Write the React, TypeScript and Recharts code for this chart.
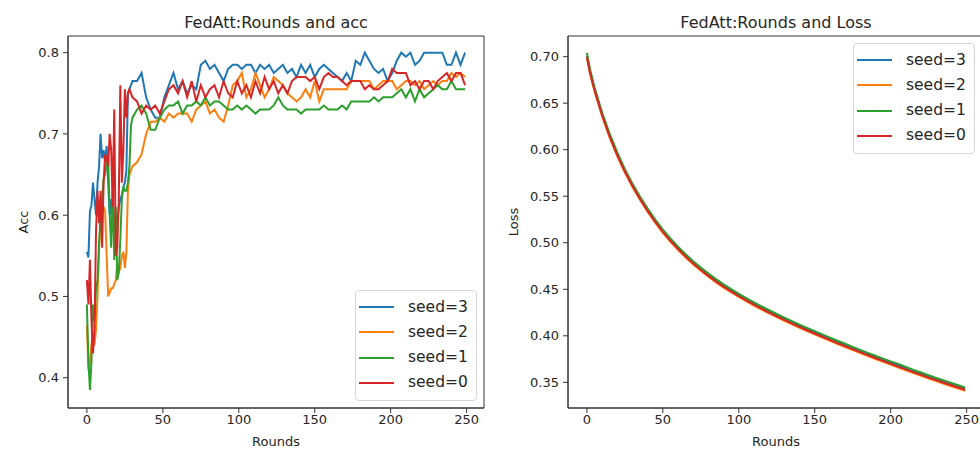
import { LineChart, Line, XAxis, YAxis, Label, ReferenceArea } from 'recharts'

const FONT = '"DejaVu Sans", Verdana, sans-serif'
const INK = '#262626'
const SPINE = '#333'

const SERIES = [
  { key: 's3', name: 'seed=3', color: '#1f77b4' },
  { key: 's2', name: 'seed=2', color: '#ff7f0e' },
  { key: 's1', name: 'seed=1', color: '#2ca02c' },
  { key: 's0', name: 'seed=0', color: '#d62728' },
]

const X_DOMAIN: [number, number] = [-12.45, 261.45]
const ROUND_TICKS = [0, 50, 100, 150, 200, 250]
const ACC_TICKS = [0.4, 0.5, 0.6, 0.7, 0.8]
const LOSS_TICKS = [0.35, 0.4, 0.45, 0.5, 0.55, 0.6, 0.65, 0.7]

// accuracy: every round up to 30, then every 3rd round
const ACC_ROUNDS = [
  0, 1, 2, 3, 4, 5, 6, 7, 8, 9, 10, 11, 12, 13, 14, 15, 16, 17, 18, 19, 20,
  21, 22, 23, 24, 25, 26, 27, 28, 29, 30,
  33, 36, 39, 42, 45, 48, 51, 54, 57, 60,
  63, 66, 69, 72, 75, 78, 81, 84, 87, 90,
  93, 96, 99, 102, 105, 108, 111, 114, 117, 120,
  123, 126, 129, 132, 135, 138, 141, 144, 147, 150,
  153, 156, 159, 162, 165, 168, 171, 174, 177, 180,
  183, 186, 189, 192, 195, 198, 201, 204, 207, 210,
  213, 216, 219, 222, 225, 228, 231, 234, 237, 240,
  243, 246, 249,
]

const ACC_SEED3 = [
  0.555, 0.548, 0.605, 0.612, 0.64, 0.62, 0.6, 0.64, 0.66, 0.7, 0.67, 0.68, 0.665, 0.685, 0.64, 0.6,
  0.62, 0.58, 0.6, 0.57, 0.59, 0.61, 0.62, 0.625, 0.635, 0.64, 0.655, 0.75, 0.755, 0.76, 0.765,
  0.765, 0.775, 0.745, 0.73, 0.72, 0.72, 0.745, 0.76, 0.775, 0.755,
  0.765, 0.75, 0.76, 0.755, 0.785, 0.79, 0.78, 0.785, 0.775, 0.765,
  0.78, 0.785, 0.785, 0.78, 0.785, 0.785, 0.775, 0.785, 0.78, 0.785,
  0.775, 0.78, 0.785, 0.775, 0.78, 0.77, 0.785, 0.775, 0.785, 0.77,
  0.78, 0.785, 0.78, 0.775, 0.77, 0.765, 0.775, 0.765, 0.79, 0.785,
  0.8, 0.79, 0.78, 0.775, 0.78, 0.765, 0.775, 0.79, 0.8, 0.795,
  0.8, 0.785, 0.79, 0.8, 0.8, 0.8, 0.8, 0.8, 0.785, 0.785,
  0.8, 0.785, 0.8,
]

const ACC_SEED2 = [
  0.465, 0.41, 0.42, 0.44, 0.455, 0.44, 0.46, 0.5, 0.56, 0.59, 0.6, 0.61, 0.605, 0.55, 0.5, 0.505,
  0.51, 0.51, 0.515, 0.52, 0.54, 0.53, 0.535, 0.55, 0.555, 0.535, 0.555, 0.63, 0.65, 0.655, 0.66,
  0.665, 0.675, 0.7, 0.715, 0.715, 0.72, 0.715, 0.725, 0.72, 0.725,
  0.725, 0.725, 0.715, 0.73, 0.735, 0.74, 0.725, 0.73, 0.72, 0.715,
  0.735, 0.76, 0.765, 0.775, 0.745, 0.755, 0.775, 0.76, 0.745, 0.755,
  0.77, 0.765, 0.76, 0.75, 0.745, 0.74, 0.745, 0.755, 0.745, 0.765,
  0.74, 0.755, 0.755, 0.755, 0.755, 0.755, 0.755, 0.765, 0.765, 0.765,
  0.765, 0.765, 0.755, 0.76, 0.765, 0.765, 0.765, 0.755, 0.76, 0.765,
  0.765, 0.76, 0.765, 0.755, 0.76, 0.765, 0.76, 0.765, 0.765, 0.775,
  0.77, 0.775, 0.77,
]

const ACC_SEED1 = [
  0.49, 0.42, 0.385, 0.42, 0.49, 0.47, 0.51, 0.52, 0.565, 0.6, 0.62, 0.645, 0.65, 0.665, 0.67, 0.6,
  0.56, 0.64, 0.545, 0.61, 0.52, 0.53, 0.57, 0.62, 0.635, 0.63, 0.63, 0.64, 0.66, 0.71, 0.72,
  0.73, 0.735, 0.725, 0.705, 0.705, 0.72, 0.73, 0.735, 0.735, 0.74,
  0.725, 0.735, 0.735, 0.74, 0.735, 0.745, 0.735, 0.74, 0.74, 0.735,
  0.73, 0.73, 0.735, 0.73, 0.735, 0.73, 0.725, 0.73, 0.73, 0.73,
  0.735, 0.745, 0.735, 0.73, 0.73, 0.73, 0.725, 0.73, 0.73, 0.73,
  0.73, 0.735, 0.73, 0.73, 0.73, 0.735, 0.73, 0.74, 0.74, 0.74,
  0.74, 0.74, 0.745, 0.74, 0.745, 0.745, 0.745, 0.75, 0.755, 0.745,
  0.755, 0.74, 0.755, 0.745, 0.75, 0.755, 0.76, 0.755, 0.755, 0.765,
  0.755, 0.755, 0.755,
]

const ACC_SEED0 = [
  0.52, 0.49, 0.545, 0.47, 0.43, 0.46, 0.58, 0.63, 0.59, 0.63, 0.56, 0.64, 0.675, 0.67, 0.66, 0.7,
  0.68, 0.61, 0.73, 0.55, 0.56, 0.62, 0.76, 0.64, 0.68, 0.755, 0.72, 0.75, 0.755, 0.75, 0.745,
  0.74, 0.725, 0.735, 0.73, 0.735, 0.725, 0.74, 0.755, 0.76, 0.75,
  0.765, 0.745, 0.765, 0.74, 0.76, 0.745, 0.755, 0.76, 0.745, 0.765,
  0.75, 0.745, 0.765, 0.75, 0.76, 0.745, 0.765, 0.75, 0.77, 0.755,
  0.765, 0.75, 0.76, 0.75, 0.765, 0.77, 0.77, 0.77, 0.765, 0.77,
  0.755, 0.77, 0.775, 0.77, 0.77, 0.765, 0.76, 0.765, 0.765, 0.765,
  0.755, 0.76, 0.755, 0.755, 0.76, 0.765, 0.78, 0.775, 0.775, 0.775,
  0.76, 0.765, 0.755, 0.765, 0.765, 0.755, 0.765, 0.77, 0.775, 0.765,
  0.775, 0.775, 0.76,
]

const LOSS_ROUNDS = [
  0, 2, 5, 10, 15, 20, 25, 30, 35, 40, 45, 50,
  55, 60, 65, 70, 75, 80, 85, 90, 95, 100,
  105, 110, 115, 120, 125, 130, 135, 140, 145, 150,
  155, 160, 165, 170, 175, 180, 185, 190, 195, 200,
  205, 210, 215, 220, 225, 230, 235, 240, 245, 249,
]

const LOSS_SEED3 = [
  0.701, 0.684, 0.665, 0.638, 0.615, 0.595, 0.5775, 0.562, 0.548, 0.5352, 0.5235, 0.5127,
  0.5031, 0.4943, 0.4862, 0.4787, 0.4718, 0.4654, 0.4594, 0.4538, 0.4486, 0.4437,
  0.439, 0.4345, 0.4302, 0.426, 0.422, 0.4181, 0.4143, 0.4106, 0.407, 0.4035,
  0.4, 0.3966, 0.3932, 0.3899, 0.3866, 0.3834, 0.3802, 0.3771, 0.374, 0.371,
  0.3679, 0.3649, 0.3619, 0.359, 0.3561, 0.3533, 0.3505, 0.3478, 0.3451, 0.343,
]

const LOSS_SEED2 = [
  0.699, 0.682, 0.663, 0.636, 0.613, 0.593, 0.5755, 0.56, 0.546, 0.5332, 0.5215, 0.5107,
  0.5011, 0.4923, 0.4842, 0.4767, 0.4698, 0.4634, 0.4574, 0.4518, 0.4466, 0.4417,
  0.437, 0.4325, 0.4282, 0.424, 0.42, 0.4161, 0.4123, 0.4086, 0.405, 0.4015,
  0.398, 0.3946, 0.3912, 0.3879, 0.3846, 0.3814, 0.3782, 0.3751, 0.372, 0.369,
  0.3659, 0.3629, 0.3599, 0.357, 0.3541, 0.3513, 0.3485, 0.3458, 0.3431, 0.341,
]

const LOSS_SEED1 = [
  0.704, 0.687, 0.667, 0.64, 0.617, 0.597, 0.579, 0.5635, 0.5495, 0.5367, 0.525, 0.5142,
  0.5046, 0.4958, 0.4877, 0.4802, 0.4733, 0.4669, 0.4609, 0.4553, 0.4501, 0.4452,
  0.4405, 0.436, 0.4317, 0.4275, 0.4235, 0.4196, 0.4158, 0.4121, 0.4085, 0.405,
  0.4015, 0.3981, 0.3947, 0.3914, 0.3881, 0.3849, 0.3817, 0.3786, 0.3755, 0.3725,
  0.3698, 0.3665, 0.3634, 0.3605, 0.3576, 0.3548, 0.352, 0.3493, 0.3466, 0.3445,
]

const LOSS_SEED0 = [
  0.7, 0.683, 0.664, 0.637, 0.614, 0.594, 0.5765, 0.561, 0.547, 0.5342, 0.5225, 0.5117,
  0.5021, 0.4933, 0.4852, 0.4777, 0.4708, 0.4644, 0.4584, 0.4528, 0.4476, 0.4427,
  0.438, 0.4335, 0.4292, 0.425, 0.421, 0.4171, 0.4133, 0.4096, 0.406, 0.4025,
  0.399, 0.3956, 0.3922, 0.3889, 0.3856, 0.3824, 0.3792, 0.3761, 0.373, 0.37,
  0.3669, 0.3639, 0.3609, 0.358, 0.3551, 0.3523, 0.3495, 0.3468, 0.3441, 0.342,
]

const accData = ACC_ROUNDS.map((round, i) => ({
  round,
  s3: ACC_SEED3[i],
  s2: ACC_SEED2[i],
  s1: ACC_SEED1[i],
  s0: ACC_SEED0[i],
}))

const lossData = LOSS_ROUNDS.map((round, i) => ({
  round,
  s3: LOSS_SEED3[i],
  s2: LOSS_SEED2[i],
  s1: LOSS_SEED1[i],
  s0: LOSS_SEED0[i],
}))

const tickStyle = { fontSize: 13, fill: INK, fontFamily: FONT }

function LegendBox({ left, top }: { left: number; top: number }) {
  return (
    <div
      style={{
        position: 'absolute',
        left,
        top,
        width: 122,
        height: 111,
        boxSizing: 'border-box',
        border: '1px solid #d6d6d6',
        borderRadius: 4,
        background: 'rgba(255,255,255,0.8)',
        fontFamily: FONT,
        fontSize: 15.5,
        color: INK,
      }}
    >
      {SERIES.map((s, i) => (
        <div
          key={s.key}
          style={{
            position: 'absolute',
            left: 0,
            top: 3.5 + i * 25.3,
            height: 25,
            display: 'flex',
            alignItems: 'center',
          }}
        >
          <span style={{ marginLeft: 3, width: 35, height: 2, background: s.color }} />
          <span style={{ marginLeft: 14, lineHeight: '25px' }}>{s.name}</span>
        </div>
      ))}
    </div>
  )
}

interface PanelProps {
  data: Array<Record<string, number>>
  left: number
  yWidth: number
  rightMargin: number
  yDomain: [number, number]
  yTicks: number[]
  digits: number
  yLabel: string
}

function Panel({ data, left, yWidth, rightMargin, yDomain, yTicks, digits, yLabel }: PanelProps) {
  return (
    <div style={{ position: 'absolute', left, top: 0 }}>
      <LineChart
        width={500}
        height={450}
        data={data}
        margin={{ top: 36, right: rightMargin, bottom: 0, left: 0 }}
      >
        <XAxis
          dataKey="round"
          type="number"
          domain={X_DOMAIN}
          ticks={ROUND_TICKS}
          allowDataOverflow
          height={42}
          tick={tickStyle}
          tickSize={5}
          tickMargin={2}
          axisLine={{ stroke: SPINE }}
          tickLine={{ stroke: SPINE }}
        >
          <Label
            content={(p: any) => {
              const vb = p.viewBox
              return (
                <text
                  x={vb.x + vb.width / 2}
                  y={vb.y + 38}
                  textAnchor="middle"
                  fontSize={13}
                  fontFamily={FONT}
                  fill={INK}
                >
                  Rounds
                </text>
              )
            }}
          />
        </XAxis>
        <YAxis
          type="number"
          domain={yDomain}
          ticks={yTicks}
          allowDataOverflow
          width={yWidth}
          tick={tickStyle}
          tickSize={5}
          tickMargin={4}
          tickFormatter={(v: number) => v.toFixed(digits)}
          axisLine={{ stroke: SPINE }}
          tickLine={{ stroke: SPINE }}
        >
          <Label
            content={(p: any) => {
              const vb = p.viewBox
              const cx = vb.x + 23
              const cy = vb.y + vb.height / 2
              return (
                <text
                  x={cx}
                  y={cy}
                  transform={`rotate(-90 ${cx} ${cy})`}
                  textAnchor="middle"
                  dominantBaseline="central"
                  fontSize={13}
                  fontFamily={FONT}
                  fill={INK}
                >
                  {yLabel}
                </text>
              )
            }}
          />
        </YAxis>
        {/* axes frame (top and right spines) */}
        <ReferenceArea
          x1={X_DOMAIN[0]}
          x2={X_DOMAIN[1]}
          y1={yDomain[0]}
          y2={yDomain[1]}
          fill="none"
          fillOpacity={0}
          stroke={SPINE}
          strokeWidth={1}
          ifOverflow="visible"
        />
        {SERIES.map((s) => (
          <Line
            key={s.key}
            dataKey={s.key}
            name={s.name}
            type="linear"
            stroke={s.color}
            strokeWidth={2}
            dot={false}
            activeDot={false}
            isAnimationActive={false}
          />
        ))}
      </LineChart>
    </div>
  )
}

export default function App() {
  return (
    <div
      style={{
        position: 'absolute',
        left: 0,
        top: 0,
        width: 980,
        height: 450,
        overflow: 'hidden',
        background: '#fff',
      }}
    >
      <Panel
        data={accData}
        left={0}
        yWidth={68}
        rightMargin={16}
        yDomain={[0.3627, 0.8205]}
        yTicks={ACC_TICKS}
        digits={1}
        yLabel="Acc"
      />
      <Panel
        data={lossData}
        left={490}
        yWidth={78}
        rightMargin={6}
        yDomain={[0.3224, 0.7222]}
        yTicks={LOSS_TICKS}
        digits={2}
        yLabel="Loss"
      />
      <svg
        width={980}
        height={450}
        style={{ position: 'absolute', left: 0, top: 0, pointerEvents: 'none' }}
      >
        <text x={276} y={28} textAnchor="middle" fontSize={16} fontFamily={FONT} fill={INK}>
          FedAtt:Rounds and acc
        </text>
        <text x={776} y={28} textAnchor="middle" fontSize={16} fontFamily={FONT} fill={INK}>
          FedAtt:Rounds and Loss
        </text>
      </svg>
      <LegendBox left={355} top={290} />
      <LegendBox left={853} top={43} />
    </div>
  )
}
